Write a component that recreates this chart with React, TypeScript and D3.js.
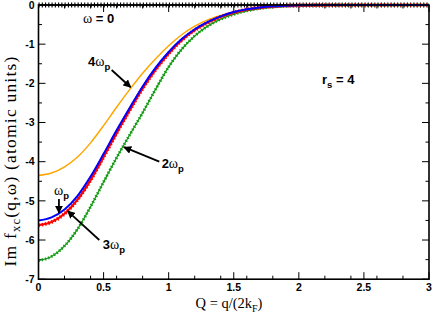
import React from "react";
import * as d3 from "d3";

// Q = q/(2kF) sample points
const qValues = [0, 0.1, 0.2, 0.3, 0.4, 0.5, 0.6, 0.7, 0.8, 0.9, 1.0, 1.1, 1.2, 1.3, 1.4, 1.5, 1.6, 1.7, 1.8, 1.9, 2.0, 2.2, 2.4, 2.6, 2.8, 3.0];

// Im fxc(q, w) for each frequency
const omega0 = [0, 0, 0, 0, 0, 0, 0, 0, 0, 0, 0, 0, 0, 0, 0, 0, 0, 0, 0, 0, 0, 0, 0, 0, 0, 0];
const omegaP = [-5.5, -5.42, -5.22, -4.87, -4.38, -3.8, -3.2, -2.63, -2.08, -1.6, -1.2, -0.87, -0.62, -0.43, -0.29, -0.18, -0.11, -0.065, -0.035, -0.018, -0.008, -0.002, 0, 0, 0, 0];
const omega2P = [-6.52, -6.42, -6.15, -5.72, -5.15, -4.52, -3.9, -3.32, -2.75, -2.15, -1.58, -1.13, -0.79, -0.54, -0.36, -0.24, -0.15, -0.09, -0.05, -0.026, -0.012, -0.003, 0, 0, 0, 0];
const omega3P = [-5.62, -5.54, -5.33, -4.97, -4.47, -3.88, -3.27, -2.69, -2.13, -1.65, -1.24, -0.9, -0.64, -0.45, -0.3, -0.19, -0.115, -0.068, -0.037, -0.019, -0.009, -0.002, 0, 0, 0, 0];
const omega4P = [-4.35, -4.29, -4.13, -3.88, -3.52, -3.08, -2.61, -2.16, -1.74, -1.37, -1.04, -0.76, -0.54, -0.38, -0.27, -0.18, -0.115, -0.068, -0.037, -0.019, -0.009, -0.002, 0, 0, 0, 0];

const xTickLabels = ["0", "0.5", "1", "1.5", "2", "2.5", "3"];
const yTickLabels = ["0", "-1", "-2", "-3", "-4", "-5", "-6", "-7"];

const W = 433;
const H = 315;

const x = d3.scaleLinear().domain([0, 3]).range([38.5, 429]);
const y = d3.scaleLinear().domain([-7, 0]).range([279.2, 5]);

const line = d3
  .line<number>()
  .x((d, i) => x(qValues[i]))
  .y(d => y(d))
  .curve(d3.curveMonotoneX);

const sans = "'Liberation Sans', Arial, Helvetica, sans-serif";
const serif = "'Liberation Serif', 'Times New Roman', serif";

// label positions in data units
const notes = [
  { pre: "", sub: "", post: " = 0", q: 0.342, v: -0.46, arrow: null as null | number[] },
  { pre: "4", sub: "p", post: "", q: 0.38, v: -1.56, arrow: [0.562, -1.66, 0.708, -2.1] },
  { pre: "", sub: "p", post: "", q: 0.119, v: -4.85, arrow: [0.157, -4.95, 0.157, -5.31] },
  { pre: "2", sub: "p", post: "", q: 0.946, v: -4.17, arrow: [0.928, -4.0, 0.657, -3.63] },
  { pre: "3", sub: "p", post: "", q: 0.493, v: -6.24, arrow: [0.467, -6.0, 0.224, -5.26] }
];

function App() {
  const xMajor = x.ticks(6);
  const xMinor = x.ticks(12).filter(t => !xMajor.includes(t));
  const yMajor = y.ticks(7);
  const yMinor = y.ticks(14).filter(t => !yMajor.includes(t));
  const [x0, x1] = x.range();
  const [y0, y1] = y.range();

  return (
    <svg width={W} height={H} style={{ position: "absolute", left: 0, top: 0, background: "#fff" }}>
      <defs>
        <marker id="ah" viewBox="0 0 10 10" refX="9" refY="5" markerWidth="8" markerHeight="8" markerUnits="userSpaceOnUse" orient="auto">
          <path d="M0,0 L10,5 L0,10 z" fill="#000" />
        </marker>
      </defs>

      {/* ticks, inward on all sides */}
      <g stroke="#000" strokeWidth={1}>
        {xMajor.map(t => (
          <g key={"xm" + t}>
            <line x1={x(t)} x2={x(t)} y1={y0} y2={y0 - 7} />
            <line x1={x(t)} x2={x(t)} y1={y1} y2={y1 + 7} />
          </g>
        ))}
        {xMinor.map(t => (
          <g key={"xn" + t}>
            <line x1={x(t)} x2={x(t)} y1={y0} y2={y0 - 3.5} />
            <line x1={x(t)} x2={x(t)} y1={y1} y2={y1 + 3.5} />
          </g>
        ))}
        {yMajor.map(t => (
          <g key={"ym" + t}>
            <line x1={x0} x2={x0 + 7} y1={y(t)} y2={y(t)} />
            <line x1={x1} x2={x1 - 7} y1={y(t)} y2={y(t)} />
          </g>
        ))}
        {yMinor.map(t => (
          <g key={"yn" + t}>
            <line x1={x0} x2={x0 + 3.5} y1={y(t)} y2={y(t)} />
            <line x1={x1} x2={x1 - 3.5} y1={y(t)} y2={y(t)} />
          </g>
        ))}
      </g>

      {/* w = 0 line with markers */}
      <path d={line(omega0) || ""} fill="none" stroke="#000" strokeWidth={1.5} />
      <path d={line(omega0) || ""} fill="none" stroke="#000" strokeWidth={5} strokeDasharray="1.1 2.16" />

      {/* curves */}
      <path d={line(omega4P) || ""} fill="none" stroke="#ffa500" strokeWidth={1.5} />
      <path d={line(omega2P) || ""} fill="none" stroke="#129a12" strokeWidth={1.3} />
      <path d={line(omega2P) || ""} fill="none" stroke="#129a12" strokeWidth={3} strokeDasharray="1.3 2" />
      <path d={line(omega3P) || ""} fill="none" stroke="#ff0000" strokeWidth={2.2} />
      <path d={line(omega3P) || ""} fill="none" stroke="#ff0000" strokeWidth={3.6} strokeDasharray="1.4 1.9" />
      <path d={line(omegaP) || ""} fill="none" stroke="#0000ff" strokeWidth={2} />

      {/* frame */}
      <rect x={x0} y={y1} width={x1 - x0} height={y0 - y1} fill="none" stroke="#000" strokeWidth={1.6} />

      {/* tick labels */}
      <g fontFamily={sans} fontWeight="bold" fontSize={10.5} fill="#000">
        {xMajor.map((t, i) => (
          <text key={"xl" + t} x={x(t)} y={y0 + 11.5} textAnchor="middle">{xTickLabels[i]}</text>
        ))}
        {yMajor.map(t => (
          <text key={"yl" + t} x={x0 - 4} y={y(t)} dy="0.36em" textAnchor="end">{yTickLabels[-t]}</text>
        ))}
      </g>

      {/* axis titles */}
      <text x={229} y={308} textAnchor="middle" fontFamily={serif} fontSize={14.5}>
        Q = q/(2k<tspan fontSize={10} dy={3.5}>F</tspan><tspan dy={-3.5}>)</tspan>
      </text>
      <text transform="translate(16,161) rotate(-90)" textAnchor="middle" fontFamily={serif} fontSize={17.5} letterSpacing={1.2}>
        Im f<tspan fontSize={12.5} dy={4}>xc</tspan><tspan dy={-4}>(q,ω) (atomic units)</tspan>
      </text>

      {/* annotations */}
      <g fontFamily={sans} fontWeight="bold" fontSize={13} fill="#000">
        {notes.map((n, i) => (
          <g key={"n" + i}>
            <text x={x(n.q)} y={y(n.v)}>
              {n.pre}
              <tspan fontFamily={serif} fontWeight="normal" fontSize={14}>ω</tspan>
              {n.sub ? <tspan fontSize={9.5} dy={4}>{n.sub}</tspan> : null}
              {n.post ? <tspan>{n.post}</tspan> : null}
            </text>
            {n.arrow ? (
              <line
                x1={x(n.arrow[0])}
                y1={y(n.arrow[1])}
                x2={x(n.arrow[2])}
                y2={y(n.arrow[3])}
                stroke="#000"
                strokeWidth={1.8}
                markerEnd="url(#ah)"
              />
            ) : null}
          </g>
        ))}
        <text x={x(2.178)} y={y(-2.02)}>
          r<tspan fontSize={9.5} dy={4}>s</tspan>
          <tspan dy={-4}> = 4</tspan>
        </text>
      </g>
    </svg>
  );
}

export default App;
